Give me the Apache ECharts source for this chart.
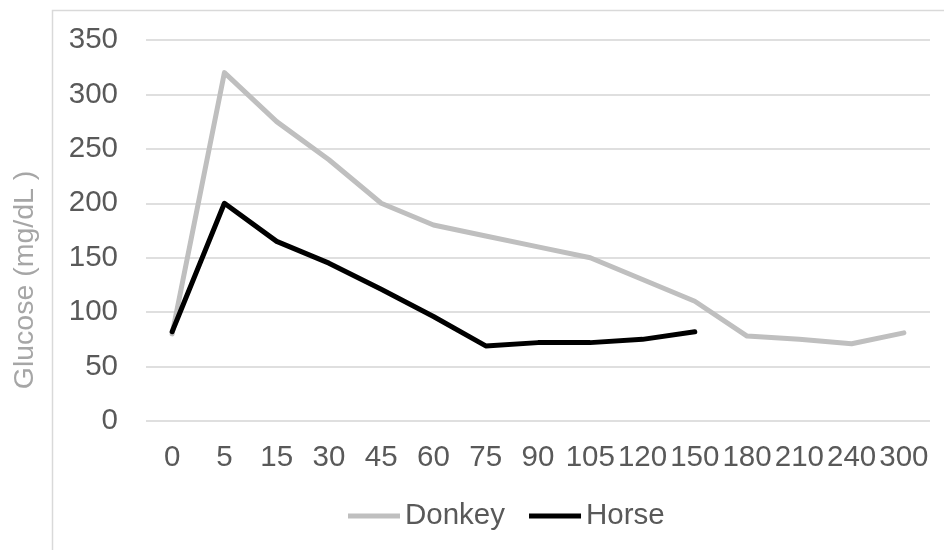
<!DOCTYPE html>
<html>
<head>
<meta charset="utf-8">
<script src="https://cdn.jsdelivr.net/npm/echarts@6/dist/echarts.min.js"></script>
<style>
html,body{margin:0;padding:0;background:#fff;}
#chart{width:944px;height:550px;}
</style>
</head>
<body>
<div id="chart"></div>
<script>
var minutes=['0','5','15','30','45','60','75','90','105','120','150','180','210','240','300'];
var donkey=[80,320,275,240,200,180,170,160,150,130,110,78,75,71,81];
var horse=[82,200,165,145,121,96,69,72,72,75,82,null,null,null,null];
var yTicks={min:0,max:350,step:50};

var fontFam='"Liberation Sans", Arial, sans-serif';
var chart=echarts.init(document.getElementById('chart'));

chart.setOption({
    backgroundColor:'#fff',
    animation:false,
    textStyle:{fontFamily:fontFam},
    grid:{left:146,right:14,top:40,bottom:129,containLabel:false},
    legend:{
        top:496,
        left:343,
        icon:'rect',
        itemWidth:52,
        itemHeight:5,
        itemGap:24,
        textStyle:{fontSize:29.5,color:'#595959',fontFamily:fontFam},
        data:['Donkey','Horse']
    },
    xAxis:{
        type:'category',
        data:minutes,
        boundaryGap:true,
        axisLine:{show:false},
        axisTick:{show:false},
        axisLabel:{fontSize:29.5,color:'#595959',margin:22,interval:0}
    },
    yAxis:{
        type:'value',
        min:yTicks.min,
        max:yTicks.max,
        interval:yTicks.step,
        axisLine:{show:false},
        axisTick:{show:false},
        axisLabel:{fontSize:29.5,color:'#595959',margin:28},
        splitLine:{lineStyle:{color:'#d4d4d4',width:1.5}}
    },
    graphic:[
        {
            type:'rect',
            shape:{x:52.5,y:10.5,width:1000,height:1000},
            style:{fill:'none',stroke:'#d9d9d9',lineWidth:1.5},
            silent:true
        },
        {
            type:'text',
            x:25,
            y:280,
            rotation:Math.PI/2,
            style:{
                text:'Glucose (mg/dL )',
                fontSize:28.5,
                fill:'#a6a6a6',
                fontFamily:fontFam,
                align:'center',
                verticalAlign:'middle'
            }
        }
    ],
    series:[
        {
            name:'Donkey',
            type:'line',
            data:donkey,
            showSymbol:false,
            symbol:'none',
            lineStyle:{color:'#bfbfbf',width:5,cap:'round',join:'round'},
            itemStyle:{color:'#bfbfbf'}
        },
        {
            name:'Horse',
            type:'line',
            data:horse,
            showSymbol:false,
            symbol:'none',
            lineStyle:{color:'#000000',width:5,cap:'round',join:'round'},
            itemStyle:{color:'#000000'}
        }
    ]
});
</script>
</body>
</html>
